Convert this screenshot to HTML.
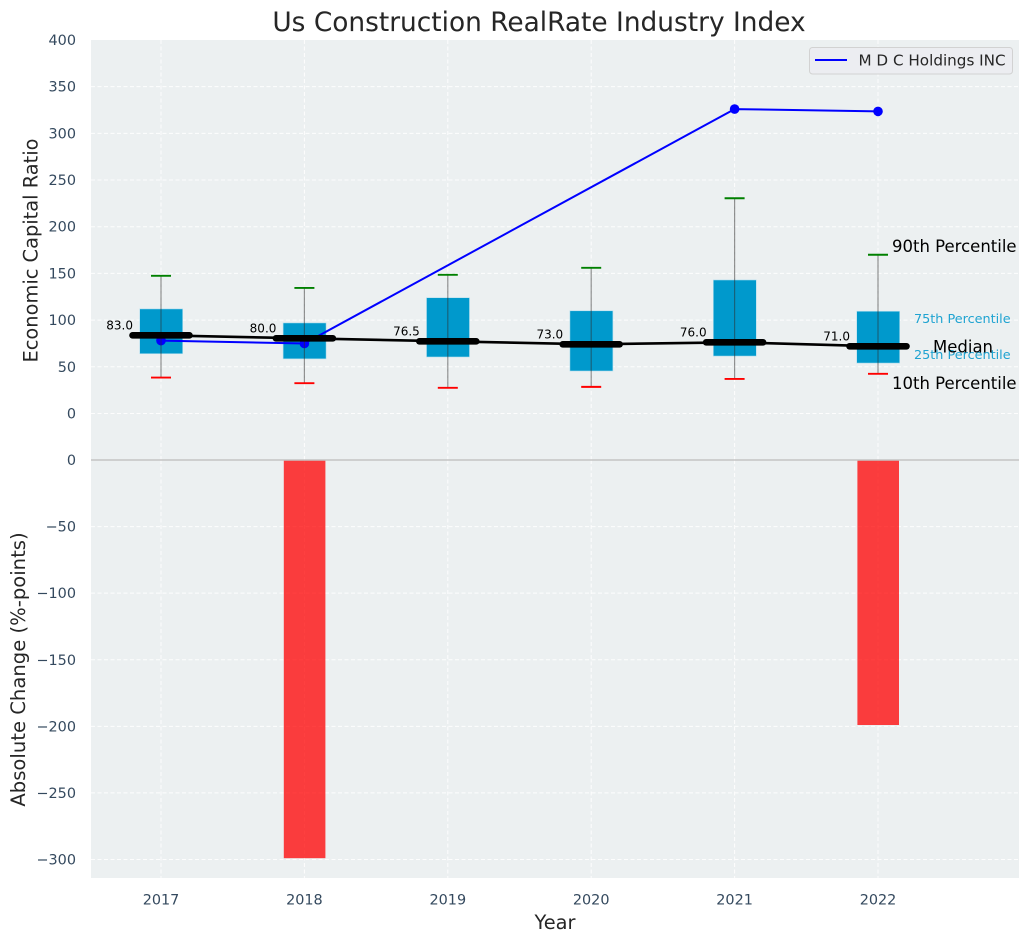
<!DOCTYPE html>
<html lang="en">
<head>
<meta charset="utf-8">
<title>Us Construction RealRate Industry Index</title>
<style>
html,body{margin:0;padding:0;background:#fff;}
svg{display:block;font-family:"DejaVu Sans","Liberation Sans",sans-serif;}
</style>
</head>
<body>
<svg id="chart" xmlns="http://www.w3.org/2000/svg" width="1029" height="942" viewBox="0 0 1029 942">
  <text x="539" y="31" text-anchor="middle" font-size="26.4" fill="#262626">Us Construction RealRate Industry Index</text>
  <rect x="91" y="40" width="928" height="420" fill="#ecf0f1"/>
  <rect x="91" y="460" width="928" height="418" fill="#ecf0f1"/>
  <g id="layer-grid"></g>
  <g id="layer-bars"></g>
  <g id="layer-boxes"></g>
  <g id="layer-company"></g>
  <g id="layer-whiskers"></g>
  <g id="layer-median"></g>
  <line x1="91" x2="1019" y1="460" y2="460" stroke="#c4c4c4" stroke-width="1.5"/>
  <g id="layer-ticks"></g>
  <text transform="translate(37.5 250.5) rotate(-90)" text-anchor="middle" font-size="19.4" fill="#262626">Economic Capital Ratio</text>
  <text transform="translate(25 669.5) rotate(-90)" text-anchor="middle" font-size="19.6" fill="#262626">Absolute Change (%-points)</text>
  <text x="555" y="929" text-anchor="middle" font-size="19.4" fill="#262626">Year</text>
  <g>
    <text x="892" y="252" font-size="16.5" fill="#000">90th Percentile</text>
    <text x="914" y="323" font-size="12.8" fill="#1fa3d1">75th Percentile</text>
    <text x="914" y="359" font-size="12.8" fill="#1fa3d1">25th Percentile</text>
    <text x="933" y="352.500" font-size="16.5" fill="#000">Median</text>
    <text x="892" y="389" font-size="16.5" fill="#000">10th Percentile</text>
  </g>
  <g>
    <rect x="809.500" y="47.500" width="203" height="26.500" rx="3" fill="#ecedf1" stroke="#d2d2d2" stroke-width="1"/>
    <line x1="815" x2="847" y1="60" y2="60" stroke="#0000ff" stroke-width="2"/>
    <text x="858.500" y="65.500" font-size="15.2" fill="#262626">M D C Holdings INC</text>
  </g>
</svg>
<script>
const years = [2017, 2018, 2019, 2020, 2021, 2022];
const p90 = [147.5, 134.5, 148.5, 156, 230.5, 170];
const p75 = [112, 97, 124, 110, 143, 109.5];
const p25 = [64, 58.5, 60.5, 45.5, 61.5, 54];
const p10 = [38.5, 32.5, 27.5, 28.5, 37, 42.5];
const medians = [83.7, 80.5, 77.3, 74.1, 76.2, 72];
const medianLabels = ["83.0", "80.0", "76.5", "73.0", "76.0", "71.0"];
const companyValues = [78, 75, null, null, 326, 323.5];
const changeValues = [null, -299, null, null, null, -199];
const upperTicks = [400, 350, 300, 250, 200, 150, 100, 50, 0];
const lowerTicks = [0, -50, -100, -150, -200, -250, -300];

const NS = "http://www.w3.org/2000/svg";
const xScale = v => 161 + (v - 2017) * 143.4;
const yUpper = v => 413.5 - v * 0.9338;
const yLowerPos = v => 460 - v * 1.3317;

function make(parentId, tag, attrs, text) {
  const el = document.createElementNS(NS, tag);
  for (const k in attrs) el.setAttribute(k, attrs[k]);
  if (text !== undefined) el.textContent = text;
  document.getElementById(parentId).appendChild(el);
  return el;
}

const tickColor = "#34495e";
const dash = "4 2.5";

upperTicks.forEach(t => {
  const y = yUpper(t);
  if (t !== 400) {
    const g = make("layer-grid", "line", {x1: 91, x2: 1019, y1: y, y2: y, stroke: "#fff", "stroke-width": 1, "stroke-dasharray": dash, opacity: 0.9});
    
    
  }
  const l = make("layer-ticks", "text", {x: 76, y: y + 5, "text-anchor": "end", "font-size": 14.4, fill: tickColor}, String(t));
  
  
});

lowerTicks.forEach(t => {
  const y = yLowerPos(t);
  if (t !== 0) {
    const g = make("layer-grid", "line", {x1: 91, x2: 1019, y1: y, y2: y, stroke: "#fff", "stroke-width": 1, "stroke-dasharray": dash, opacity: 0.9});
    
    
  }
  const label = String(t).replace("-", "\u2212");
  const l = make("layer-ticks", "text", {x: 76, y: y + 5, "text-anchor": "end", "font-size": 14.4, fill: tickColor}, label);
  
  
});

years.forEach((yr, i) => {
  const x = xScale(yr);
  const gu = make("layer-grid", "line", {x1: x, x2: x, y1: 40, y2: 460, stroke: "#fff", "stroke-width": 1, "stroke-dasharray": dash, opacity: 0.9});
  
  
  const gl = make("layer-grid", "line", {x1: x, x2: x, y1: 460, y2: 878, stroke: "#fff", "stroke-width": 1, "stroke-dasharray": dash, opacity: 0.9});
  
  
  const l = make("layer-ticks", "text", {x: x, y: 904.500, "text-anchor": "middle", "font-size": 14.4, fill: tickColor}, String(yr));
  
  

  if (changeValues[i] !== null) {
    const yb = yLowerPos(changeValues[i]);
    const bar = make("layer-bars", "rect", {x: x - 20.6, y: 460, width: 41.6, height: yb - 460, fill: "#ff0000", opacity: 0.75});
    
    
  }

  const top = yUpper(p75[i]);
  const bottom = yUpper(p25[i]);
  const box = make("layer-boxes", "rect", {x: x - 21.3, y: top, width: 43, height: bottom - top, fill: "#0099cc", stroke: "#b5dfee", "stroke-width": 0.6});
  
  

  const whisker = make("layer-whiskers", "line", {x1: x, x2: x, y1: yUpper(p90[i]), y2: yUpper(p10[i]), stroke: "#2c2c2c", "stroke-width": 1.2, opacity: 0.5});
  
  

  const capTop = make("layer-whiskers", "line", {x1: x - 10, x2: x + 10, y1: yUpper(p90[i]), y2: yUpper(p90[i]), stroke: "#008000", "stroke-width": 1.9});
  
  

  const capBottom = make("layer-whiskers", "line", {x1: x - 10, x2: x + 10, y1: yUpper(p10[i]), y2: yUpper(p10[i]), stroke: "#ff0000", "stroke-width": 1.9});
  
  
});

const companyPoints = years
  .map((yr, i) => companyValues[i] === null ? null : [xScale(yr), yUpper(companyValues[i])])
  .filter(Boolean);
const companyLine = make("layer-company", "polyline", {points: companyPoints.map(p => p.join(",")).join(" "), fill: "none", stroke: "#0000ff", "stroke-width": 2});


companyPoints.forEach(p => {
  const dot = make("layer-company", "circle", {cx: p[0], cy: p[1], r: 4.8, fill: "#0000ff"});
  
  
});

const medianLine = make("layer-median", "polyline", {points: years.map((yr, i) => xScale(yr) + "," + yUpper(medians[i])).join(" "), fill: "none", stroke: "#000", "stroke-width": 2.6});



years.forEach((yr, i) => {
  const x = xScale(yr);
  const y = yUpper(medians[i]);
  const seg = make("layer-median", "line", {x1: x - 28.5, x2: x + 28.5, y1: y, y2: y, stroke: "#000", "stroke-width": 6.6, "stroke-linecap": "round"});
  
  
  const label = make("layer-median", "text", {x: x - 28, y: y - 6, "text-anchor": "end", "font-size": 12, fill: "#000"}, medianLabels[i]);
  
  
});
</script>
</body>
</html>
